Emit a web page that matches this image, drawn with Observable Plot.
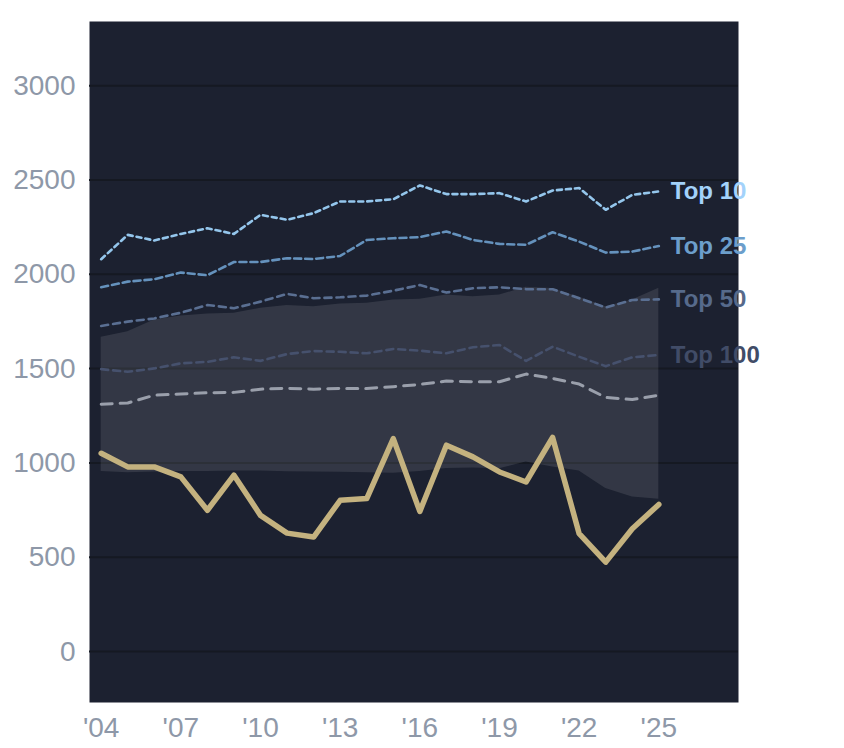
<!DOCTYPE html>
<html>
<head>
<meta charset="utf-8">
<script src="https://cdn.jsdelivr.net/npm/d3@7"></script>
<script src="https://cdn.jsdelivr.net/npm/@observablehq/plot@0.6"></script>
<style>
  html, body { margin: 0; padding: 0; background: #ffffff; }
</style>
</head>
<body>
<div id="chart"></div>
<script>
const years = [2004, 2005, 2006, 2007, 2008, 2009, 2010, 2011, 2012, 2013, 2014, 2015, 2016, 2017, 2018, 2019, 2020, 2021, 2022, 2023, 2024, 2025];
const mainSeries = [1051, 979, 979, 926, 749, 935, 722, 628, 607, 802, 811, 1129, 743, 1094, 1032, 952, 899, 1135, 625, 474, 651, 780];
const top10 = [2080, 2209, 2179, 2214, 2244, 2214, 2315, 2289, 2324, 2386, 2386, 2398, 2471, 2425, 2425, 2430, 2386, 2444, 2457, 2342, 2421, 2439];
const top25 = [1931, 1961, 1974, 2009, 1995, 2065, 2065, 2085, 2081, 2097, 2182, 2191, 2197, 2227, 2182, 2161, 2156, 2223, 2173, 2115, 2120, 2150];
const top50 = [1726, 1749, 1766, 1796, 1837, 1820, 1855, 1896, 1873, 1878, 1887, 1913, 1943, 1903, 1926, 1931, 1921, 1921, 1873, 1824, 1864, 1867];
const top100 = [1497, 1483, 1501, 1528, 1536, 1560, 1541, 1577, 1593, 1589, 1581, 1604, 1595, 1581, 1613, 1625, 1541, 1616, 1563, 1513, 1560, 1572];
const median = [1311, 1318, 1359, 1365, 1372, 1374, 1391, 1395, 1391, 1395, 1395, 1404, 1416, 1434, 1430, 1430, 1471, 1448, 1418, 1347, 1336, 1359];
const bandLow = [955, 948, 952, 955, 955, 957, 957, 953, 952, 950, 948, 945, 955, 970, 973, 969, 1005, 979, 957, 864, 819, 807];
const bandHigh = [1666, 1696, 1757, 1779, 1789, 1793, 1820, 1835, 1828, 1842, 1846, 1864, 1867, 1890, 1881, 1890, 1931, 1925, 1880, 1828, 1864, 1926];
const xTicks = [2004, 2007, 2010, 2013, 2016, 2019, 2022, 2025];
const yTicks = [0, 500, 1000, 1500, 2000, 2500, 3000];
const labelNames = ["Top 10", "Top 25", "Top 50", "Top 100"];

const rows = years.map((year, i) => ({
  year,
  main: mainSeries[i],
  top10: top10[i],
  top25: top25[i],
  top50: top50[i],
  top100: top100[i],
  median: median[i],
  low: bandLow[i],
  high: bandHigh[i]
}));
const last = rows[rows.length - 1];
const labelRows = [
  {name: labelNames[0], year: last.year, value: last.top10},
  {name: labelNames[1], year: last.year, value: last.top25},
  {name: labelNames[2], year: last.year, value: last.top50},
  {name: labelNames[3], year: last.year, value: last.top100}
];
const labelColors = ["#a3d2fb", "#6c9ecb", "#566a8b", "#414c67"];

const chart = Plot.plot({
  width: 844,
  height: 748,
  marginLeft: 89,
  marginRight: 106,
  marginTop: 21,
  marginBottom: 46,
  style: {
    fontFamily: "'Liberation Sans', Arial, sans-serif",
    fontSize: "28px",
    color: "#8e98a8",
    background: "#ffffff",
    overflow: "visible"
  },
  x: {
    domain: [2003.56, 2028],
    ticks: xTicks,
    tickFormat: d => "'" + String(d).slice(2),
    tickSize: 0,
    tickPadding: 15,
    label: null
  },
  y: {
    domain: [-270, 3340],
    ticks: yTicks,
    tickFormat: d => String(d),
    tickSize: 0,
    tickPadding: 14,
    label: null
  },
  marks: [
    Plot.frame({fill: "#1c2130", stroke: null}),
    Plot.ruleY(yTicks, {stroke: "#151922", strokeWidth: 2}),
    Plot.areaY(rows, {x: "year", y1: "low", y2: "high", fill: "#ffffff", fillOpacity: 0.1}),
    Plot.lineY(rows, {x: "year", y: "median", stroke: "#9a9fab", strokeWidth: 3, strokeDasharray: "11,8"}),
    Plot.lineY(rows, {x: "year", y: "top100", stroke: "#46516d", strokeWidth: 2.6, strokeDasharray: "7,5"}),
    Plot.lineY(rows, {x: "year", y: "top50", stroke: "#5a6f92", strokeWidth: 2.6, strokeDasharray: "7,5"}),
    Plot.lineY(rows, {x: "year", y: "top25", stroke: "#6592bd", strokeWidth: 2.6, strokeDasharray: "7,4"}),
    Plot.lineY(rows, {x: "year", y: "top10", stroke: "#94c6ec", strokeWidth: 2.6, strokeDasharray: "5,4"}),
    Plot.lineY(rows, {x: "year", y: "main", stroke: "#c4b27f", strokeWidth: 5.5, strokeLinejoin: "round"}),
    Plot.text(labelRows, {
      x: "year",
      y: "value",
      text: "name",
      fill: (d, i) => labelColors[i],
      textAnchor: "start",
      dx: 12,
      fontSize: 24,
      fontWeight: "bold"
    })
  ]
});
document.getElementById("chart").appendChild(chart);
</script>
</body>
</html>
